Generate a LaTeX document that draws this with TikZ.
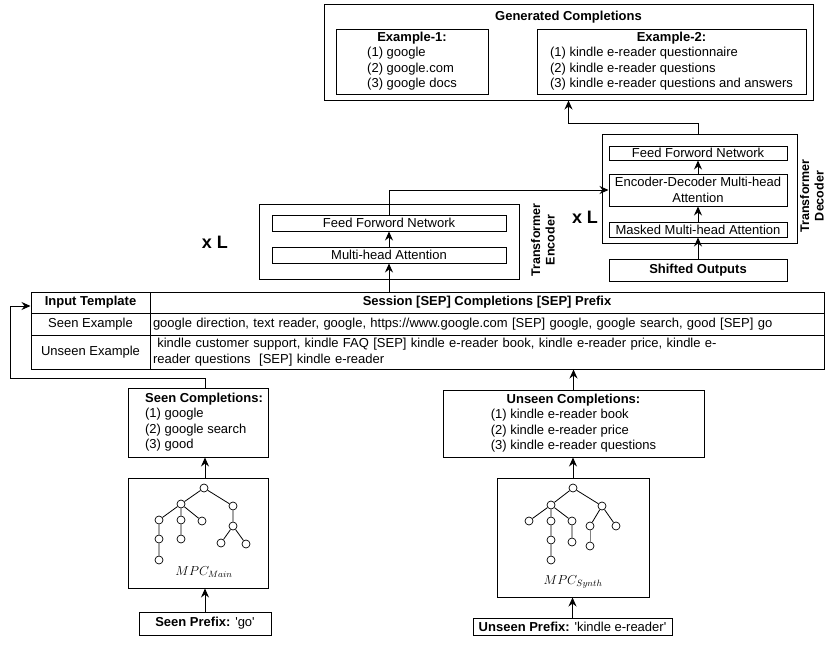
\RequirePackage{fix-cm}
\documentclass[tikz,border=0pt]{standalone}
\usepackage{fontspec}
\setmainfont{Liberation Sans}
\usetikzlibrary{arrows.meta,positioning}

\begin{document}
\begin{tikzpicture}[x=1pt, y=-1pt, line width=1pt, >={Stealth[length=9pt,width=8pt,inset=3pt]},
	every node/.style={font=\fontsize{13}{15.5}\selectfont, inner sep=0pt},
	sized/.style 2 args={minimum width=#1, minimum height=#2}]
	\tikzstyle{box} = [draw, align=center]
	\tikzstyle{boldtxt} = [font=\fontsize{13}{15.5}\selectfont\bfseries]
	\tikzstyle{sidetxt} = [font=\fontsize{12.5}{14.5}\selectfont\bfseries, rotate=90, align=center]
	\tikzstyle{times} = [font=\fontsize{18}{20}\selectfont\bfseries]
	\tikzstyle{cell} = [draw, inner xsep=3pt]
	\tikzstyle{vtx} = [draw, circle, minimum size=8pt, line width=0.7pt]
	\tikzstyle{edge} = [line width=0.8pt]
	
	\useasboundingbox (0,0) rectangle (831,645);
	
	% generated completions
	\node[box, sized={489}{96}] (gen) at (568.5,52) {};
	\node[boldtxt] (gentitle) at (568.5,17) {Generated Completions};
	\node[box, sized={152}{65}] (exone) at (412,61.5) {\begin{tabular}{@{}l@{}}\multicolumn{1}{@{}c@{}}{\textbf{Example-1:}}\\(1) google\\(2) google.com\\(3) google docs\end{tabular}};
	\node[box, sized={269}{65}] (extwo) at (671.5,61.5) {\begin{tabular}{@{}l@{}}\multicolumn{1}{@{}c@{}}{\textbf{Example-2:}}\\(1) kindle e-reader questionnaire\\(2) kindle e-reader questions\\(3) kindle e-reader questions and answers\end{tabular}};
	
	% decoder
	\node[box, sized={195}{109}] (dec) at (699.5,188.5) {};
	\node[box, sized={178}{14}] (decffn) at (698,153) {Feed Forword Network};
	\node[box, sized={178}{32}] (encdec) at (698,190) {Encoder-Decoder Multi-head\\Attention};
	\node[box, sized={178}{15}] (masked) at (698,229.5) {Masked Multi-head Attention};
	\node[box, boldtxt, sized={178}{22}] (shifted) at (698,270) {Shifted Outputs};
	\node[times] (declayers) at (585,217) {x L};
	\node[sidetxt] (declab) at (812,196) {Transformer\\Decoder};
	
	% encoder
	\node[box, sized={260}{75}] (enc) at (389,241.5) {};
	\node[box, sized={234}{16}] (encffn) at (389,223) {Feed Forword Network};
	\node[box, sized={234}{16}] (encmha) at (389,255) {Multi-head Attention};
	\node[times] (enclayers) at (215,242) {x L};
	\node[sidetxt] (enclab) at (543,240) {Transformer\\Encoder};
	
	% input template table
	\node[cell, boldtxt, sized={119}{21}] (hdrA) at (90.5,302.5) {Input Template};
	\node[cell, boldtxt, sized={674}{21}] (hdrB) at (487,302.5) {Session [SEP] Completions [SEP] Prefix};
	\node[cell, sized={119}{22}] (seenA) at (90.5,324) {Seen Example};
	\node[cell, sized={674}{22}, text width=668pt, align=left] (seenB) at (487,324) {google direction, text reader, google, https://www.google.com [SEP] google, google search, good [SEP] go};
	\node[cell, sized={119}{34}] (unseenA) at (90.5,352) {Unseen Example};
	\node[cell, sized={674}{34}, text width=668pt, align=left] (unseenB) at (487,352) {\ kindle customer support, kindle FAQ [SEP] kindle e-reader book, kindle e-reader price, kindle e-\\reader questions\ \ [SEP] kindle e-reader};
	
	% seen branch
	\node[box, sized={140}{69}] (seencomp) at (198,422.5) {\begin{tabular}{@{\hspace{12pt}}l@{}}\multicolumn{1}{@{\hspace{12pt}}c@{}}{\textbf{Seen Completions:}}\\(1) google\\(2) google search\\(3) good\end{tabular}};
	\node[box, sized={140}{110}] (mpcmain) at (198,533) {};
	\node (mainlab) at (204,572) {$MPC_{Main}$};
	\node[box, sized={132}{23}] (seenpre) at (205,623.5) {\textbf{Seen Prefix:} \textquotesingle go\textquotesingle};
	
	% unseen branch
	\node[box, sized={261}{67}] (unseencomp) at (573.5,423.5) {\begin{tabular}{@{}l@{}}\multicolumn{1}{@{}c@{}}{\textbf{Unseen Completions:}}\\(1) kindle e-reader book\\(2) kindle e-reader price\\(3) kindle e-reader questions\end{tabular}};
	\node[box, sized={152}{119}] (mpcsynth) at (573,537.5) {};
	\node (synthlab) at (573,582) {$MPC_{Synth}$};
	\node[box, sized={199}{17}] (unseenpre) at (572.5,626.5) {\textbf{Unseen Prefix:} \textquotesingle kindle e-reader\textquotesingle};
	
	% main tree
	\node[vtx] (ma0) at (204,488) {};
	\node[vtx] (ma1) at (181,504) {};
	\node[vtx] (ma2) at (233,506) {};
	\node[vtx] (ma3) at (159,520) {};
	\node[vtx] (ma4) at (181,520) {};
	\node[vtx] (ma5) at (202,521) {};
	\node[vtx] (ma6) at (159,539) {};
	\node[vtx] (ma7) at (159,560) {};
	\node[vtx] (ma8) at (181,539) {};
	\node[vtx] (ma9) at (233,526) {};
	\node[vtx] (ma10) at (221,543) {};
	\node[vtx] (ma11) at (246,544) {};
	\draw[edge] (ma0) -- (ma1) (ma0) -- (ma2) (ma1) -- (ma3) (ma1) -- (ma4) (ma1) -- (ma5)
		(ma3) -- (ma6) (ma6) -- (ma7) (ma4) -- (ma8) (ma2) -- (ma9) (ma9) -- (ma10) (ma9) -- (ma11);
	
	% synthetic tree
	\node[vtx] (sy0) at (573,488) {};
	\node[vtx] (sy1) at (551,505) {};
	\node[vtx] (sy2) at (602,506) {};
	\node[vtx] (sy3) at (529,521) {};
	\node[vtx] (sy4) at (551,521) {};
	\node[vtx] (sy5) at (572,521) {};
	\node[vtx] (sy6) at (551,540) {};
	\node[vtx] (sy7) at (551,560) {};
	\node[vtx] (sy8) at (572,542) {};
	\node[vtx] (sy9) at (590,526) {};
	\node[vtx] (sy10) at (616,526) {};
	\node[vtx] (sy11) at (590,546) {};
	\draw[edge] (sy0) -- (sy1) (sy0) -- (sy2) (sy1) -- (sy3) (sy1) -- (sy4) (sy1) -- (sy5)
		(sy4) -- (sy6) (sy6) -- (sy7) (sy5) -- (sy8) (sy2) -- (sy9) (sy2) -- (sy10);
	\draw[edge, gray] (sy9) -- (sy11);
	
	\coordinate (fbbot) at (10,378);
	\coordinate (fbtop) at (10,306);
	\coordinate (genin) at (568.5,123);
	
	\draw[->] (seenpre.north) -- (seenpre.north |- mpcmain.south);
	\draw[->] (seenpre.north |- mpcmain.north) -- (seenpre.north |- seencomp.south);
	\draw[->] (seenpre.north |- seencomp.north) |- (fbbot) -- (fbtop) -- (fbtop -| hdrA.west);
	\draw[->] (unseenpre.north) -- (unseenpre.north |- mpcsynth.south);
	\draw[->] (mpcsynth.north) -- (mpcsynth.north |- unseencomp.south);
	\draw[->] (unseencomp.north) -- (unseencomp.north |- unseenB.south);
	\draw[->] (encmha.south |- hdrB.north) -- (encmha.south);
	\draw[->] (encmha.north) -- (encffn.south);
	\draw[->] (encffn.north) |- (encdec.west);
	\draw[->] (shifted.north) -- (masked.south);
	\draw[->] (masked.north) -- (encdec.south);
	\draw[->] (encdec.north) -- (decffn.south);
	\draw[->] (decffn.north |- dec.north) |- (genin) -- (gen.south);
\end{tikzpicture}
\end{document}
